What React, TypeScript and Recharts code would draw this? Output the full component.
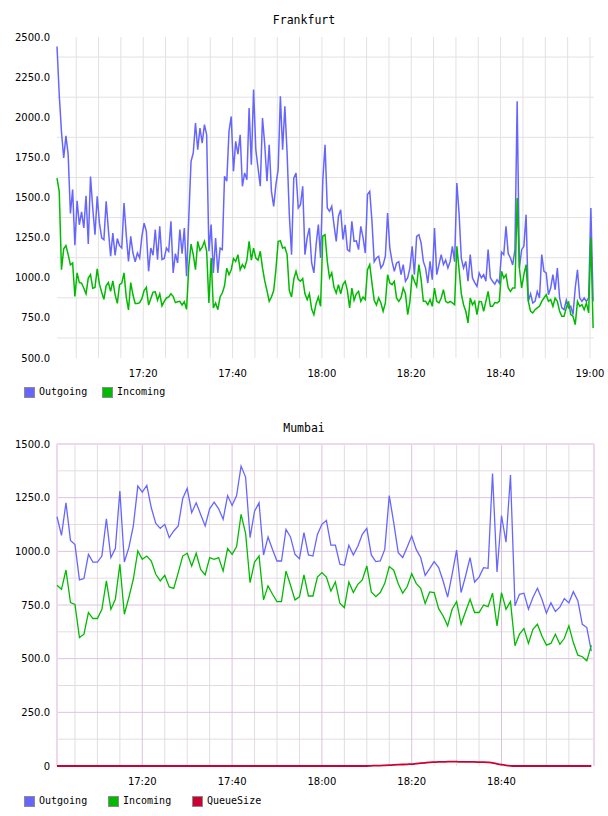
import React from 'react';
import { LineChart, Line, XAxis, YAxis, CartesianGrid, Legend } from 'recharts';

// ---- Frankfurt: one sample every 30 s, first sample 0.7 min after 17:00 ----
const FRANKFURT_START_MIN = 0.7;
const FRANKFURT_STEP_MIN = 0.5;

const frankfurtOutgoing = [
  2441, 2140, 1910, 1746, 1884, 1767, 1400, 1549, 1202, 1480,
  1330, 1410, 1310, 1510, 1210, 1630, 1435, 1268, 1507, 1340,
  1248, 1237, 1476, 1300, 1134, 1279, 1140, 1244, 1200, 1185,
  1466, 1268, 1102, 1258, 1154, 1100, 1154, 1123, 1258, 1340,
  1289, 1040, 1185, 1140, 1300, 1113, 1320, 1113, 1120, 1185,
  1165, 1352, 1030, 1150, 1092, 1300, 1150, 1310, 1009, 1372,
  1725, 1777, 1964, 1798, 1933, 1839, 1954, 1891, 1165, 1331,
  1030, 1248, 1030, 1185, 1175, 1632, 1601, 1912, 2005, 1663,
  1850, 1770, 1891, 1570, 1653, 1610, 2057, 1704, 2172, 1798,
  1684, 1570, 1995, 1829, 1601, 1829, 1538, 1445, 1580, 1673,
  2130, 1798, 2068, 1780, 1393, 1144, 1621, 1653, 1435, 1455,
  1570, 1144, 1250, 1310, 1092, 1030, 1206, 1331, 1123, 1611,
  1829, 1435, 1414, 1445, 1330, 1227, 1383, 1424, 1238, 1330,
  1175, 1165, 1352, 1227, 1230, 1175, 1320, 1250, 1154, 1518,
  1538, 1352, 1100, 1123, 1134, 1061, 1082, 1134, 1403, 1185,
  1102, 1040, 1092, 1100, 1019, 1082, 978, 1000, 1061, 1196,
  1019, 1258, 1268, 1217, 1102, 1060, 967, 1102, 988, 1310,
  1019, 1082, 1144, 1082, 1110, 1061, 1102, 1196, 1100, 1590,
  1400, 1120, 1061, 1102, 978, 1144, 998, 970, 946, 1030,
  1000, 1019, 978, 1175, 1000, 978, 960, 988, 967, 1160,
  1144, 1320, 1150, 1123, 1080, 1175, 2099, 1061, 1175, 1196,
  1393, 853, 900, 843, 853, 915, 874, 1144, 1040, 1030,
  894, 936, 1019, 925, 1061, 874, 812, 801, 860, 812,
  822, 770, 936, 1050, 874, 853, 874, 853, 874, 1435,
  853,
];

const frankfurtIncoming = [
  1621, 1538, 1050, 1180, 1200, 1144, 1080, 1092, 884, 1030,
  970, 967, 935, 900, 998, 1020, 935, 940, 1055, 960,
  910, 866, 950, 970, 915, 980, 895, 840, 957, 967,
  1030, 880, 800, 970, 894, 840, 840, 845, 870, 920,
  940, 830, 870, 910, 912, 860, 900, 825, 853, 874,
  880, 900, 884, 845, 850, 853, 830, 850, 803, 1070,
  1210, 1144, 1050, 1227, 1170, 1190, 1227, 1165, 843, 1123,
  812, 843, 801, 880, 905, 950, 1060, 1019, 1050, 1120,
  1102, 1144, 1050, 1082, 1061, 1110, 1227, 1110, 1185, 1123,
  1110, 1165, 1061, 980, 920, 853, 880, 920, 1050, 1227,
  1230, 1185, 1190, 1144, 920, 880, 990, 1040, 990, 978,
  995, 900, 864, 900, 805, 770, 840, 880, 822, 1260,
  1268, 1102, 1000, 1030, 940, 905, 957, 900, 957, 978,
  920, 812, 936, 860, 900, 915, 853, 880, 864, 1050,
  1082, 967, 860, 830, 874, 843, 791, 843, 1019, 967,
  957, 978, 874, 853, 874, 936, 900, 770, 853, 1019,
  978, 946, 1082, 990, 853, 853, 832, 864, 822, 936,
  853, 843, 874, 926, 853, 843, 853, 843, 832, 1196,
  1050, 900, 832, 791, 718, 874, 832, 853, 770, 853,
  850, 791, 853, 915, 822, 822, 845, 843, 853, 1040,
  998, 1019, 936, 915, 936, 936, 1497, 1061, 936, 1019,
  1082, 853, 791, 781, 801, 812, 822, 853, 874, 894,
  853, 864, 822, 874, 853, 791, 760, 760, 812, 853,
  770, 760, 708, 853, 822, 832, 801, 843, 781, 1248,
  687,
];

// ---- Mumbai: one sample per minute, first sample at 17:01 ----
const MUMBAI_START_MIN = 1;
const MUMBAI_STEP_MIN = 1;

const mumbaiOutgoing = [
  1161, 1074, 1226, 1051, 1032, 867, 873, 986, 950, 950,
  978, 1152, 971, 1013, 1281, 950, 1017, 1118, 1304, 1276,
  1307, 1203, 1130, 1107, 1126, 1064, 1095, 1118, 1246, 1293,
  1180, 1226, 1172, 1118, 1198, 1229, 1198, 1149, 1260, 1214,
  1260, 1397, 1346, 1064, 1187, 1226, 983, 1067, 1009, 955,
  955, 1102, 1067, 986, 966, 1087, 983, 978, 1079, 1126,
  1144, 1029, 1029, 940, 935, 1028, 983, 1024, 1079, 1107,
  983, 952, 955, 1009, 1260, 1133, 994, 971, 1020, 1071,
  1009, 971, 888, 919, 952, 924, 862, 787, 893, 1006,
  808, 885, 971, 857, 880, 924, 921, 1363, 904, 1167,
  1043, 1355, 746, 800, 805, 730, 785, 828, 777, 712,
  760, 720, 740, 780, 760, 812, 770, 660, 645, 535,
];

const mumbaiIncoming = [
  842, 823, 913, 761, 753, 598, 614, 715, 687, 687,
  730, 862, 730, 777, 940, 707, 785, 870, 1002, 963,
  978, 955, 893, 862, 888, 834, 827, 901, 978, 991,
  932, 991, 916, 890, 971, 963, 971, 908, 1013, 986,
  1022, 1172, 1084, 854, 950, 978, 774, 839, 800, 766,
  766, 908, 843, 774, 788, 890, 792, 792, 880, 901,
  880, 815, 857, 758, 738, 857, 808, 846, 867, 932,
  811, 789, 808, 851, 929, 912, 849, 805, 836, 896,
  851, 828, 757, 811, 808, 733, 699, 653, 730, 766,
  660, 720, 777, 715, 715, 750, 742, 805, 653, 808,
  730, 766, 560, 614, 640, 571, 637, 660, 606, 563,
  571, 614, 567, 595, 653, 575, 516, 509, 490, 563,
];

const mumbaiQueueSize = [
  0, 0, 0, 0, 0, 0, 0, 0, 0, 0,
  0, 0, 0, 0, 0, 0, 0, 0, 0, 0,
  0, 0, 0, 0, 0, 0, 0, 0, 0, 0,
  0, 0, 0, 0, 0, 0, 0, 0, 0, 0,
  0, 0, 0, 0, 0, 0, 0, 0, 0, 0,
  0, 0, 0, 0, 0, 0, 0, 0, 0, 0,
  0, 0, 0, 0, 0, 0, 0, 0, 0, 0,
  1, 2, 2, 3, 4, 5, 6, 7, 8, 9,
  11, 13, 15, 17, 18, 19, 19, 20, 20, 20,
  19, 19, 19, 19, 18, 18, 17, 15, 10, 6,
  3, 1, 0, 0, 0, 0, 0, 0, 0, 0,
  0, 0, 0, 0, 0, 0, 0, 0, 0, 0,
];

// ---- axis ticks (minutes after 17:00 / traffic values) ----
const frankfurtTimeTicks = [20, 40, 60, 80, 100, 120];
const mumbaiTimeTicks = [20, 40, 60, 80, 100];
const frankfurtValueTicks = [500, 750, 1000, 1250, 1500, 1750, 2000, 2250, 2500];
const mumbaiValueTicks = [0, 250, 500, 750, 1000, 1250, 1500];

// grid positions
const fiveMinuteMarks = [5, 10, 15, 20, 25, 30, 35, 40, 45, 50, 55, 60, 65, 70, 75, 80, 85, 90, 95, 100, 105, 110, 115, 120];
const frankfurtGridValues = [625, 875, 1125, 1375, 1625, 1875, 2125, 2375];
const mumbaiMinorTimeMarks = [5, 10, 15, 25, 30, 35, 45, 50, 55, 65, 70, 75, 85, 90, 95, 105, 110, 115];
const mumbaiMajorTimeMarks = [20, 40, 60, 80, 100];
const mumbaiMinorValueMarks = [125, 375, 625, 875, 1125, 1375];
const mumbaiMajorValueMarks = [250, 500, 750, 1000, 1250];

const frankfurtData = frankfurtOutgoing.map((v, i) => ({
  t: FRANKFURT_START_MIN + i * FRANKFURT_STEP_MIN,
  outgoing: v,
  incoming: frankfurtIncoming[i],
}));

const mumbaiData = mumbaiOutgoing.map((v, i) => ({
  t: MUMBAI_START_MIN + i * MUMBAI_STEP_MIN,
  outgoing: v,
  incoming: mumbaiIncoming[i],
  queue: mumbaiQueueSize[i],
}));

const formatClock = (m: number) => {
  const total = 17 * 60 + Math.round(m);
  const h = Math.floor(total / 60);
  const mm = total % 60;
  return `${h}:${String(mm).padStart(2, '0')}`;
};

const formatValue = (v: number) => (v === 0 ? '0' : v.toFixed(1));

const COLORS = {
  outgoing: '#6666ff',
  incoming: '#00bb00',
  queue: '#cc0033',
};

// legend entries keep the series order of the chart
const SERIES_ORDER = ['Outgoing', 'Incoming', 'QueueSize'];

const tickStyle = { fill: '#000', fontSize: 10, fontFamily: 'DejaVu Sans' };

const makeLegend = (itemWidth: number) => (props: any) => {
  const payload = [...(props.payload || [])].sort(
    (a: any, b: any) => SERIES_ORDER.indexOf(a.value) - SERIES_ORDER.indexOf(b.value),
  );
  return (
    <div style={{ display: 'flex', fontFamily: 'DejaVu Sans Mono', fontSize: 10, color: '#000', lineHeight: '12px' }}>
      {payload.map((p: any) => (
        <div key={p.value} style={{ width: itemWidth, display: 'flex', alignItems: 'center' }}>
          <span
            style={{
              display: 'inline-block',
              width: 9,
              height: 9,
              background: p.color,
              border: '1px solid #8c8c8c',
              marginRight: 4,
            }}
          />
          <span>{p.value}</span>
        </div>
      ))}
    </div>
  );
};

const titleStyle: React.CSSProperties = {
  position: 'absolute',
  left: 0,
  width: 608,
  textAlign: 'center',
  fontFamily: 'DejaVu Sans Mono',
  fontSize: 11.5,
  color: '#000',
  lineHeight: '14px',
};

export default function App() {
  return (
    <div style={{ position: 'absolute', left: 0, top: 0, width: 608, height: 816, background: '#fff', overflow: 'hidden' }}>
      <div style={{ ...titleStyle, top: 13 }}>Frankfurt</div>
      <div style={{ position: 'absolute', left: 0, top: 0 }}>
        <LineChart width={608} height={400} data={frankfurtData} margin={{ top: 37, right: 14, bottom: 12, left: 0 }}>
          <CartesianGrid stroke="#e2e2e2" horizontalValues={frankfurtGridValues} verticalValues={fiveMinuteMarks} />
          <XAxis
            dataKey="t"
            type="number"
            domain={[0.7, 120.9]}
            ticks={frankfurtTimeTicks}
            tickFormatter={formatClock}
            interval={0}
            axisLine={false}
            tickLine={false}
            tickSize={0}
            tickMargin={12}
            height={30}
            tick={tickStyle}
          />
          <YAxis
            type="number"
            domain={[500, 2500]}
            ticks={frankfurtValueTicks}
            tickFormatter={formatValue}
            interval={0}
            axisLine={false}
            tickLine={false}
            tickSize={0}
            tickMargin={7}
            width={57}
            tick={tickStyle}
          />
          <Line name="Outgoing" dataKey="outgoing" type="linear" stroke={COLORS.outgoing} strokeWidth={1.5} dot={false} isAnimationActive={false} />
          <Line name="Incoming" dataKey="incoming" type="linear" stroke={COLORS.incoming} strokeWidth={1.5} dot={false} isAnimationActive={false} />
          <Legend
            layout="horizontal"
            verticalAlign="middle"
            align="center"
            content={makeLegend(78)}
            wrapperStyle={{ left: 24, top: 386, width: 'auto', height: 'auto' }}
          />
        </LineChart>
      </div>

      <div style={{ ...titleStyle, top: 421 }}>Mumbai</div>
      <div style={{ position: 'absolute', left: 0, top: 407 }}>
        <LineChart width={608} height={409} data={mumbaiData} margin={{ top: 37, right: 14, bottom: 20, left: 0 }}>
          <CartesianGrid stroke="#e2dce2" horizontalValues={mumbaiMinorValueMarks} verticalValues={mumbaiMinorTimeMarks} />
          <CartesianGrid stroke="#dcc3dc" horizontalValues={mumbaiMajorValueMarks} verticalValues={mumbaiMajorTimeMarks} />
          <CartesianGrid stroke="#eed8ee" strokeWidth={2} horizontalValues={[1500]} verticalValues={[1, 120.6]} />
          <XAxis
            dataKey="t"
            type="number"
            domain={[1, 120.6]}
            ticks={mumbaiTimeTicks}
            tickFormatter={formatClock}
            interval={0}
            axisLine={false}
            tickLine={false}
            tickSize={0}
            tickMargin={12}
            height={30}
            tick={tickStyle}
          />
          <YAxis
            type="number"
            domain={[0, 1500]}
            ticks={mumbaiValueTicks}
            tickFormatter={formatValue}
            interval={0}
            axisLine={false}
            tickLine={false}
            tickSize={0}
            tickMargin={7}
            width={57}
            tick={tickStyle}
          />
          <Line name="Outgoing" dataKey="outgoing" type="linear" stroke={COLORS.outgoing} strokeWidth={1.3} dot={false} isAnimationActive={false} />
          <Line name="Incoming" dataKey="incoming" type="linear" stroke={COLORS.incoming} strokeWidth={1.3} dot={false} isAnimationActive={false} />
          <Line name="QueueSize" dataKey="queue" type="monotone" stroke={COLORS.queue} strokeWidth={1.8} dot={false} isAnimationActive={false} />
          <Legend
            layout="horizontal"
            verticalAlign="middle"
            align="center"
            content={makeLegend(84)}
            wrapperStyle={{ left: 24, top: 388, width: 'auto', height: 'auto' }}
          />
        </LineChart>
      </div>
    </div>
  );
}
